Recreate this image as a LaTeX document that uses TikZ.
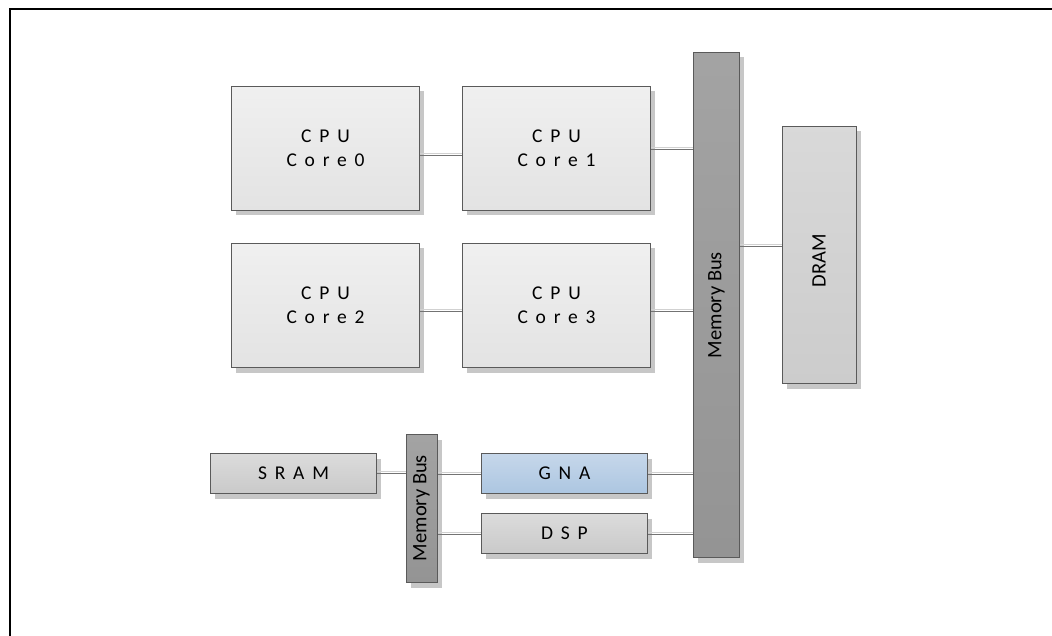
\documentclass[tikz,border=0pt]{standalone}
\usepackage{fontspec}
\setmainfont{Carlito}
\newfontfamily\spacedfont[LetterSpace=40]{Carlito}
\usetikzlibrary{shadows}
\definecolor{edgec}{HTML}{5A5A5A}
\tikzset{
  blk/.style={draw=edgec, line width=1pt, inner sep=0pt, anchor=north west,
    drop shadow={shadow xshift=4pt, shadow yshift=-5pt, fill=black!22, opacity=1},
    font=\fontsize{19.5}{24}\selectfont\spacedfont, align=center, text=black},
  cpubox/.style={blk, minimum width=188pt, minimum height=124pt, top color=white!94!black, bottom color=white!89!black},
  smallbox/.style={blk, minimum width=166pt, minimum height=40pt, top color=white!86!black, bottom color=white!79!black},
  gnabox/.style={blk, minimum width=166pt, minimum height=40pt, top color={rgb,255:red,198;green,215;blue,234}, bottom color={rgb,255:red,172;green,198;blue,225}},
  busbox/.style={blk, top color=white!64!black, bottom color=white!58!black},
  drambox/.style={blk, top color=white!85!black, bottom color=white!80!black},
  vtext/.style={rotate=90, font=\fontsize{20.5}{24}\selectfont, text=black},
  conn/.style={draw=black!55, line width=0.9pt},
  connlo/.style={draw=black!18, line width=1.2pt},
}
\newcommand{\link}[2]{%
  \draw[connlo] ([yshift=1.6pt]#1) -- ([yshift=1.6pt]#2);
  \draw[conn] (#1) -- (#2);}
\begin{document}
\begin{tikzpicture}[x=1pt,y=-1pt]
\useasboundingbox (0,0) rectangle (1052,636);
\draw[line width=2.5pt, black] (10,636) -- (10,9) -- (1052,9);

\node[cpubox] (c0) at (231,86) {CPU\\Core0};
\node[cpubox] (c1) at (462,86) {CPU\\Core1};
\node[cpubox] (c2) at (231,243) {CPU\\Core2};
\node[cpubox] (c3) at (462,243) {CPU\\Core3};

\node[busbox, minimum width=46pt, minimum height=505pt] (bus) at (693,52) {};
\node[vtext] (bustxt) at (716.5,305) {Memory Bus};

\node[drambox, minimum width=74pt, minimum height=257pt] (dram) at (782,126) {};
\node[vtext] (dramtxt) at (819,261) {DRAM};

\node[smallbox] (sram) at (210,453) {SRAM};
\node[busbox, minimum width=31pt, minimum height=148pt] (sbus) at (406,434) {};
\node[vtext] (sbustxt) at (421.5,508) {Memory Bus};

\node[gnabox] (gna) at (481,453) {GNA};
\node[smallbox] (dsp) at (481,513) {DSP};

% connectors
\link{c0.east |- 0,155}{c1.west |- 0,155}
\link{c2.east |- 0,311}{c3.west |- 0,311}
\link{c1.east |- 0,149}{bus.west |- 0,149}
\link{c3.east |- 0,311}{bus.west |- 0,311}
\link{bus.east |- 0,246}{dram.west |- 0,246}
\link{sram.east |- 0,473}{sbus.west |- 0,473}
\link{sbus.east |- 0,474}{gna.west |- 0,474}
\link{sbus.east |- 0,534}{dsp.west |- 0,534}
\link{gna.east |- 0,474}{bus.west |- 0,474}
\link{dsp.east |- 0,534}{bus.west |- 0,534}
\end{tikzpicture}
\end{document}
